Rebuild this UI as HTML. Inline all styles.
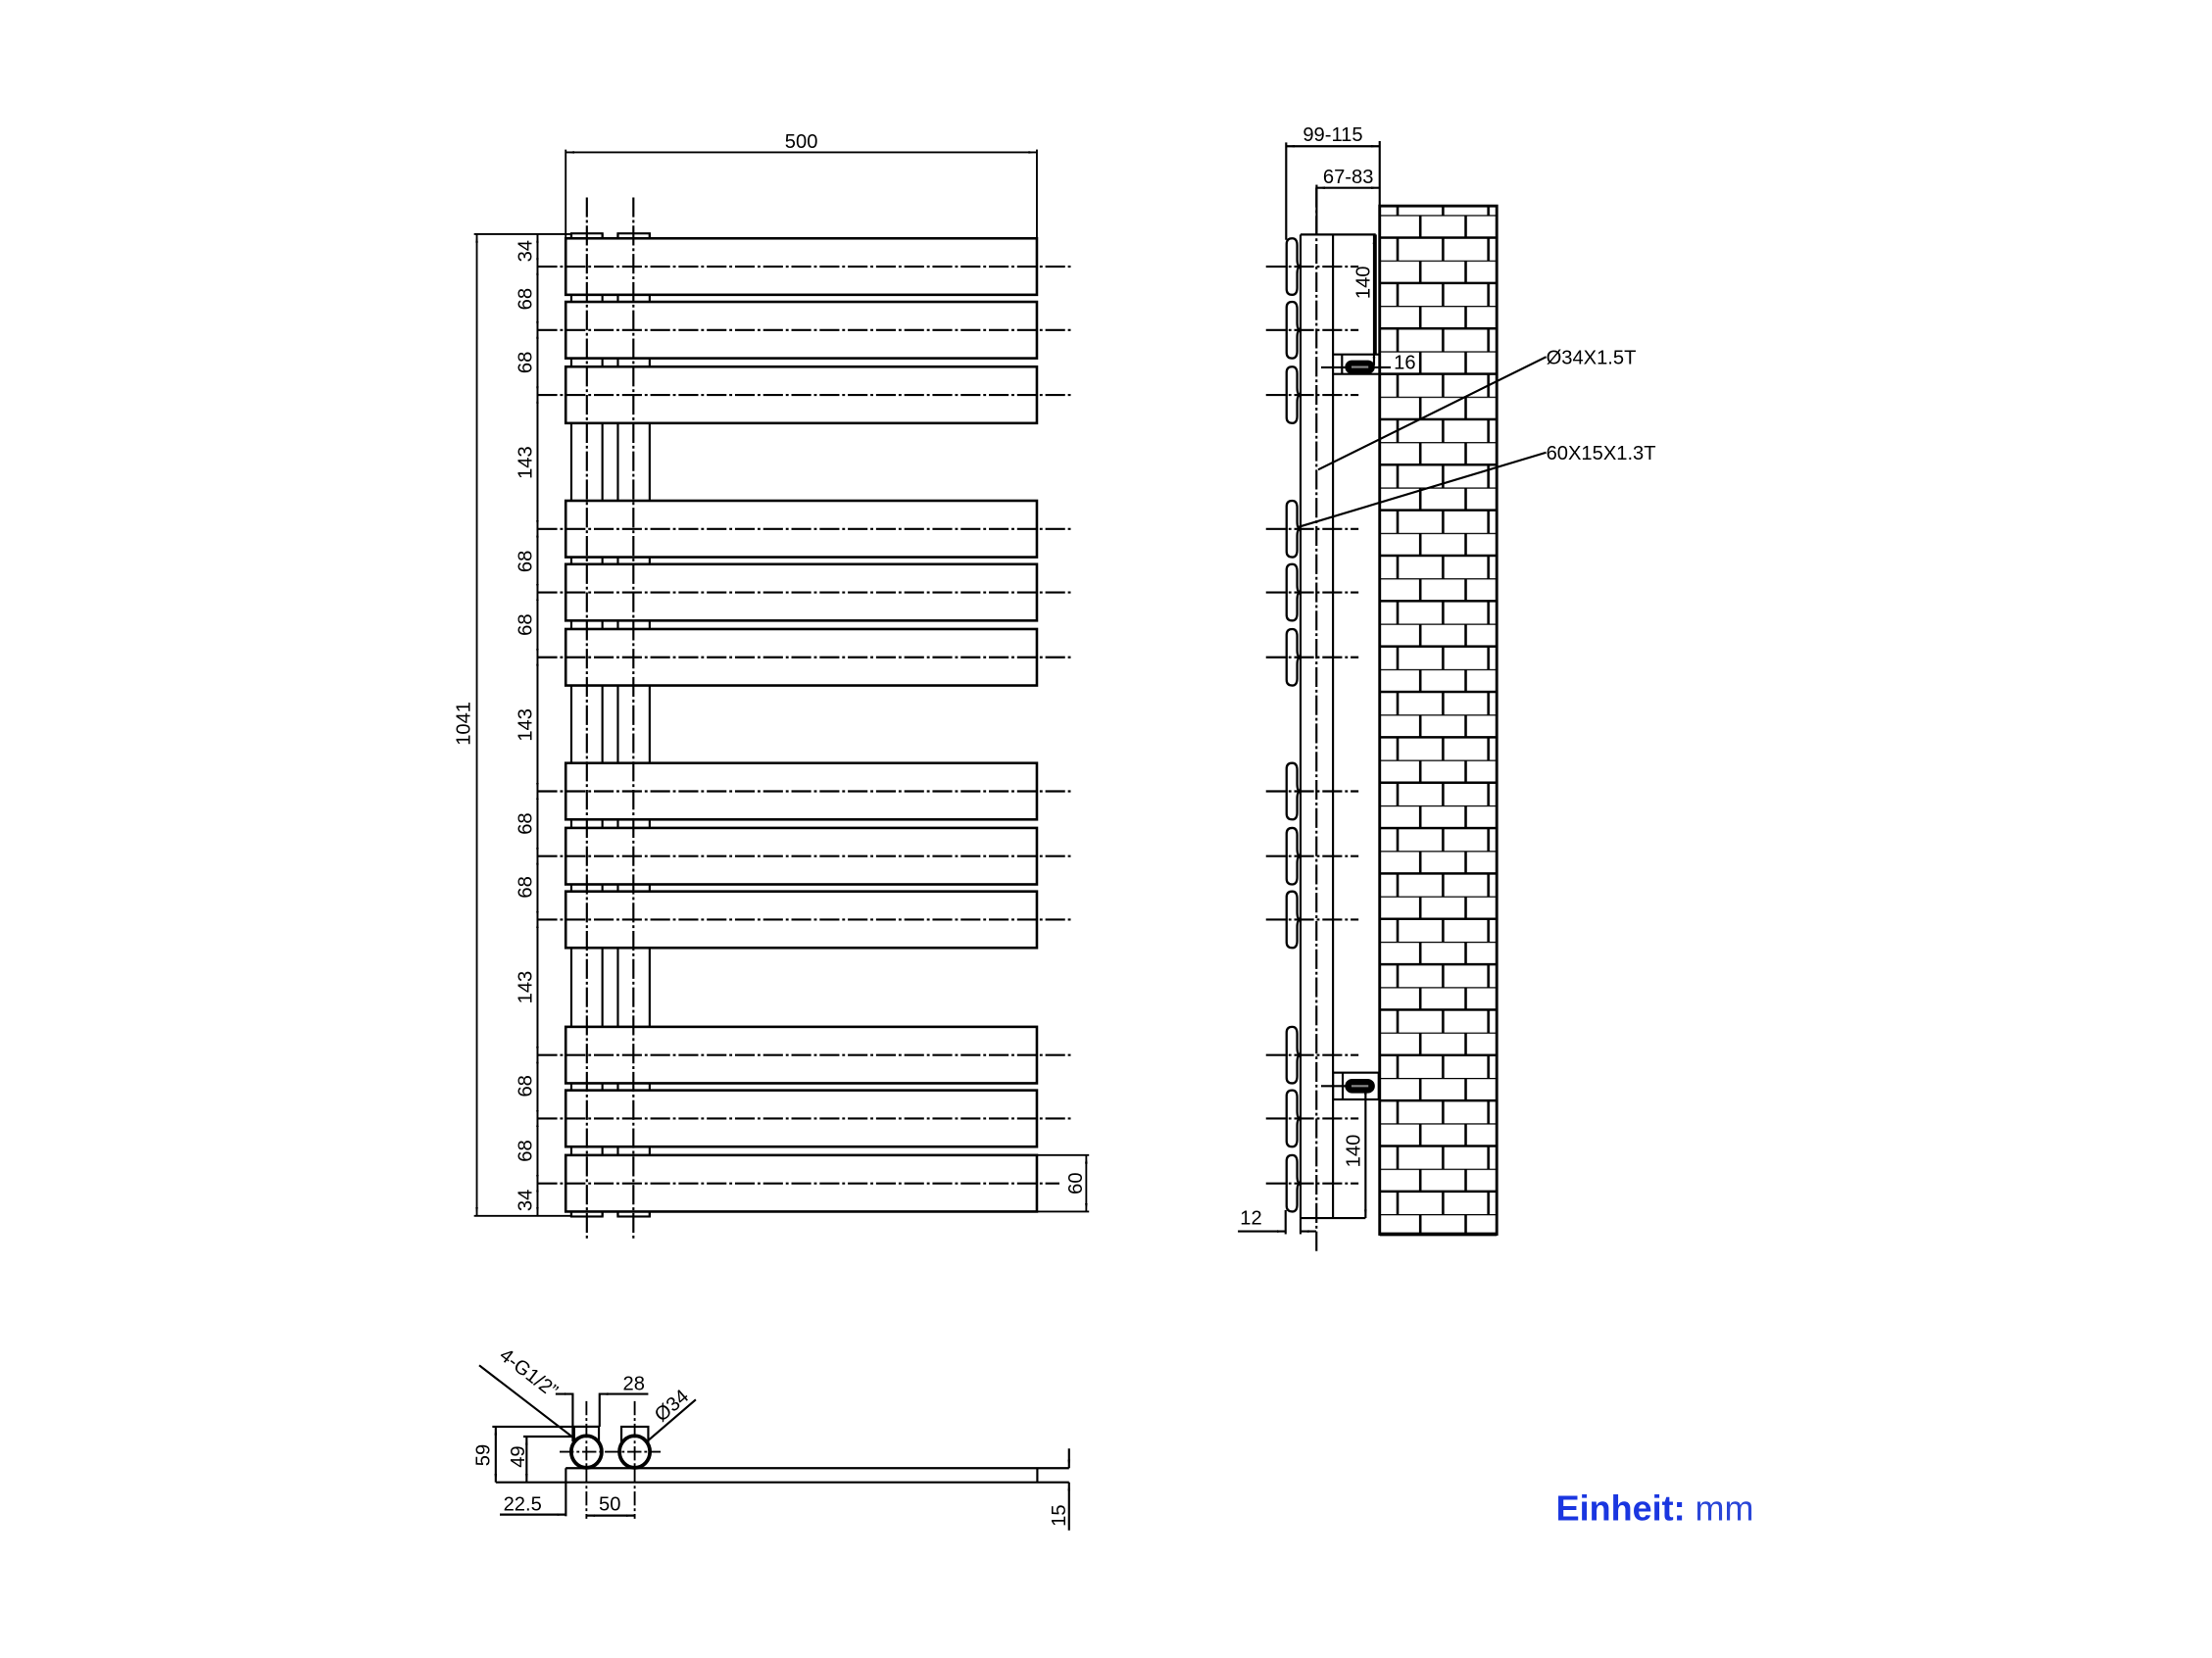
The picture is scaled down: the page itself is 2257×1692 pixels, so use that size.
<!DOCTYPE html>
<html><head><meta charset="utf-8"><style>
html,body{margin:0;padding:0;background:#fff;}
svg{display:block;}
text{font-family:"Liberation Sans",sans-serif;fill:#000;}
</style></head><body>
<svg width="2257" height="1692" viewBox="0 0 1568 1175.5" xmlns="http://www.w3.org/2000/svg">
<defs>
<pattern id="brick" patternUnits="userSpaceOnUse" x="990.7" y="152.4" width="32.19" height="32.2">
<g stroke="#000" stroke-width="1.8" fill="none">
<line x1="0" y1="0" x2="32.19" y2="0"/>
<line x1="0" y1="16.1" x2="32.19" y2="16.1"/>
<line x1="16.1" y1="0" x2="16.1" y2="16.1"/>
<line x1="0" y1="16.1" x2="0" y2="32.2"/>
<line x1="32.19" y1="16.1" x2="32.19" y2="32.2"/>
</g>
</pattern>
<marker id="ar" viewBox="0 0 10 10" refX="10" refY="5" markerWidth="6" markerHeight="6" orient="auto-start-reverse" markerUnits="userSpaceOnUse"><path d="M0,3.5 L10,5 L0,6.5 z" fill="#000"/></marker>
</defs>
<rect width="1568" height="1175.5" fill="#fff"/>

<!-- ================= FRONT VIEW ================= -->
<g stroke="#000" stroke-width="1.5" fill="none">
<line x1="405" y1="165.5" x2="405" y2="862.5"/>
<line x1="427" y1="165.5" x2="427" y2="862.5"/>
<line x1="438" y1="165.5" x2="438" y2="862.5"/>
<line x1="460.5" y1="165.5" x2="460.5" y2="862.5"/>
<rect x="405" y="165.5" width="22" height="3.5"/>
<rect x="438" y="165.5" width="22.5" height="3.5"/>
<rect x="405" y="859" width="22" height="3.5"/>
<rect x="438" y="859" width="22.5" height="3.5"/>
</g>
<g stroke="#000" stroke-width="1.8" fill="#fff">
<rect x="401" y="169" width="334" height="40"/>
<rect x="401" y="214" width="334" height="40"/>
<rect x="401" y="260" width="334" height="40"/>
<rect x="401" y="355" width="334" height="40"/>
<rect x="401" y="400" width="334" height="40"/>
<rect x="401" y="446" width="334" height="40"/>
<rect x="401" y="541" width="334" height="40"/>
<rect x="401" y="587" width="334" height="40"/>
<rect x="401" y="632" width="334" height="40"/>
<rect x="401" y="728" width="334" height="40"/>
<rect x="401" y="773" width="334" height="40"/>
<rect x="401" y="819" width="334" height="40"/>
</g>
<g stroke="#000" stroke-width="1.5" fill="none" stroke-dasharray="14 2 2 2">
<line x1="381" y1="189" x2="759" y2="189"/>
<line x1="381" y1="234" x2="759" y2="234"/>
<line x1="381" y1="280" x2="759" y2="280"/>
<line x1="381" y1="375" x2="759" y2="375"/>
<line x1="381" y1="420" x2="759" y2="420"/>
<line x1="381" y1="466" x2="759" y2="466"/>
<line x1="381" y1="561" x2="759" y2="561"/>
<line x1="381" y1="607" x2="759" y2="607"/>
<line x1="381" y1="652" x2="759" y2="652"/>
<line x1="381" y1="748" x2="759" y2="748"/>
<line x1="381" y1="793" x2="759" y2="793"/>
<line x1="381" y1="839" x2="751" y2="839"/>
<line x1="416" y1="140" x2="416" y2="880"/>
<line x1="449" y1="140" x2="449" y2="880"/>
</g>
<g stroke="#000" stroke-width="1.3" fill="none">
<line x1="401" y1="106" x2="401" y2="169"/>
<line x1="735" y1="106" x2="735" y2="169"/>
<line x1="401" y1="108" x2="735" y2="108" marker-start="url(#ar)" marker-end="url(#ar)"/>
<line x1="336" y1="166" x2="405" y2="166"/>
<line x1="336" y1="862" x2="405" y2="862"/>
<line x1="338" y1="166" x2="338" y2="862" marker-start="url(#ar)" marker-end="url(#ar)"/>
<line x1="381" y1="166" x2="381" y2="862"/>
<line x1="381" y1="166" x2="381" y2="189" marker-start="url(#ar)" marker-end="url(#ar)"/>
<line x1="381" y1="189" x2="381" y2="234" marker-start="url(#ar)" marker-end="url(#ar)"/>
<line x1="381" y1="234" x2="381" y2="280" marker-start="url(#ar)" marker-end="url(#ar)"/>
<line x1="381" y1="280" x2="381" y2="375" marker-start="url(#ar)" marker-end="url(#ar)"/>
<line x1="381" y1="375" x2="381" y2="420" marker-start="url(#ar)" marker-end="url(#ar)"/>
<line x1="381" y1="420" x2="381" y2="466" marker-start="url(#ar)" marker-end="url(#ar)"/>
<line x1="381" y1="466" x2="381" y2="561" marker-start="url(#ar)" marker-end="url(#ar)"/>
<line x1="381" y1="561" x2="381" y2="607" marker-start="url(#ar)" marker-end="url(#ar)"/>
<line x1="381" y1="607" x2="381" y2="652" marker-start="url(#ar)" marker-end="url(#ar)"/>
<line x1="381" y1="652" x2="381" y2="748" marker-start="url(#ar)" marker-end="url(#ar)"/>
<line x1="381" y1="748" x2="381" y2="793" marker-start="url(#ar)" marker-end="url(#ar)"/>
<line x1="381" y1="793" x2="381" y2="839" marker-start="url(#ar)" marker-end="url(#ar)"/>
<line x1="381" y1="839" x2="381" y2="862" marker-start="url(#ar)" marker-end="url(#ar)"/>
<line x1="735" y1="819" x2="772" y2="819"/>
<line x1="735" y1="859" x2="772" y2="859"/>
<line x1="770" y1="819" x2="770" y2="859" marker-start="url(#ar)" marker-end="url(#ar)"/>
</g>
<g font-size="14" text-anchor="middle">
<text x="568" y="105">500</text>
<text transform="translate(333,513) rotate(-90)">1041</text>
<text transform="translate(377,178) rotate(-90)">34</text>
<text transform="translate(377,212) rotate(-90)">68</text>
<text transform="translate(377,257) rotate(-90)">68</text>
<text transform="translate(377,328) rotate(-90)">143</text>
<text transform="translate(377,398) rotate(-90)">68</text>
<text transform="translate(377,443) rotate(-90)">68</text>
<text transform="translate(377,514) rotate(-90)">143</text>
<text transform="translate(377,584) rotate(-90)">68</text>
<text transform="translate(377,629) rotate(-90)">68</text>
<text transform="translate(377,700) rotate(-90)">143</text>
<text transform="translate(377,770) rotate(-90)">68</text>
<text transform="translate(377,816) rotate(-90)">68</text>
<text transform="translate(377,851) rotate(-90)">34</text>
<text transform="translate(767,839) rotate(-90)">60</text>
</g>

<!-- ================= SIDE VIEW ================= -->
<rect x="978" y="146" width="83" height="729" fill="url(#brick)"/>
<rect x="978" y="146" width="83" height="729" fill="none" stroke="#000" stroke-width="2"/>
<line x1="978" y1="875" x2="1061" y2="875" stroke="#000" stroke-width="2.6"/>
<g stroke="#000" stroke-width="1.5" fill="none">
<line x1="921.9" y1="166.3" x2="921.9" y2="863.6"/>
<line x1="944.9" y1="166.3" x2="944.9" y2="863.6"/>
<line x1="921.9" y1="166.3" x2="975.2" y2="166.3"/>
<line x1="975.2" y1="166.3" x2="975.2" y2="251.3"/>
<line x1="921.9" y1="863.6" x2="968" y2="863.6"/>
<line x1="911.7" y1="101" x2="911.7" y2="170"/>
<line x1="978" y1="100" x2="978" y2="146"/>
<line x1="933.3" y1="131" x2="933.3" y2="166"/>
<line x1="911.7" y1="103.7" x2="978" y2="103.7" marker-start="url(#ar)" marker-end="url(#ar)"/>
<line x1="933.3" y1="133.2" x2="978" y2="133.2" marker-start="url(#ar)" marker-end="url(#ar)"/>
<line x1="974" y1="167" x2="974" y2="259" marker-start="url(#ar)" marker-end="url(#ar)"/>
<line x1="944.9" y1="251.3" x2="978" y2="251.3"/>
<line x1="944.9" y1="265.2" x2="1006" y2="265.2"/>
<line x1="951.3" y1="251.3" x2="951.3" y2="265.2"/>
<line x1="936.5" y1="260.5" x2="985.8" y2="260.5"/>
<rect x="944.9" y="760.5" width="32.4" height="19"/>
<line x1="951.8" y1="760.5" x2="951.8" y2="779.5"/>
<line x1="936.5" y1="770" x2="954" y2="770"/>
<line x1="968" y1="770" x2="968" y2="863.6" marker-start="url(#ar)" marker-end="url(#ar)"/>
<line x1="877.5" y1="873" x2="911.3" y2="873" marker-end="url(#ar)"/>
<line x1="933" y1="873" x2="921.9" y2="873" marker-end="url(#ar)"/>
<line x1="911.3" y1="858" x2="911.3" y2="875"/>
<line x1="921.9" y1="863.6" x2="921.9" y2="875"/>
<line x1="934.4" y1="333" x2="1096" y2="253"/>
<line x1="919.3" y1="374" x2="1096" y2="320.8"/>
</g>
<g fill="#000" stroke="#000" stroke-width="1.2">
<rect x="954" y="256" width="20" height="8.5" rx="4.2"/>
<rect x="954" y="765.5" width="20" height="9" rx="4.5"/>
</g>
<line x1="958" y1="260.2" x2="970" y2="260.2" stroke="#888" stroke-width="1.5"/>
<line x1="958" y1="770" x2="970" y2="770" stroke="#888" stroke-width="1.5"/>
<g stroke="#000" stroke-width="1.6" fill="#fff">
<path id="pf" d="M916 169 Q912 169 912 173 L912 205 Q912 209 916 209 Q919.5 209 919.5 204 L919.5 194 Q919.5 189 922 189 Q919.5 189 919.5 184 L919.5 174 Q919.5 169 916 169 Z"/>
<use href="#pf" y="45"/>
<use href="#pf" y="91"/>
<use href="#pf" y="186"/>
<use href="#pf" y="231"/>
<use href="#pf" y="277"/>
<use href="#pf" y="372"/>
<use href="#pf" y="418"/>
<use href="#pf" y="463"/>
<use href="#pf" y="559"/>
<use href="#pf" y="604"/>
<use href="#pf" y="650"/>
</g>
<g stroke="#000" stroke-width="1.5" fill="none" stroke-dasharray="14 2 2 2">
<line x1="933.2" y1="133" x2="933.2" y2="888.5"/>
<line x1="897.4" y1="189" x2="963" y2="189"/>
<line x1="897.4" y1="234" x2="963" y2="234"/>
<line x1="897.4" y1="280" x2="963" y2="280"/>
<line x1="897.4" y1="375" x2="963" y2="375"/>
<line x1="897.4" y1="420" x2="963" y2="420"/>
<line x1="897.4" y1="466" x2="963" y2="466"/>
<line x1="897.4" y1="561" x2="963" y2="561"/>
<line x1="897.4" y1="607" x2="963" y2="607"/>
<line x1="897.4" y1="652" x2="963" y2="652"/>
<line x1="897.4" y1="748" x2="963" y2="748"/>
<line x1="897.4" y1="793" x2="963" y2="793"/>
<line x1="897.4" y1="839" x2="963" y2="839"/>
</g>
<g font-size="14">
<text x="944.8" y="100" text-anchor="middle">99-115</text>
<text x="955.7" y="130" text-anchor="middle">67-83</text>
<text transform="translate(971,200.3) rotate(-90)" text-anchor="middle">140</text>
<text transform="translate(964,816) rotate(-90)" text-anchor="middle">140</text>
<text x="988" y="261.5">16</text>
<text x="1096" y="258">Ø34X1.5T</text>
<text x="1096" y="326">60X15X1.3T</text>
<text x="879" y="868">12</text>
</g>

<!-- ================= BOTTOM VIEW ================= -->
<g stroke="#000" stroke-width="1.5" fill="none">
<line x1="401" y1="1040.9" x2="757.8" y2="1040.9"/>
<line x1="351.4" y1="1050.9" x2="757.8" y2="1050.9"/>
<line x1="735.3" y1="1040.9" x2="735.3" y2="1050.9"/>
<line x1="401.1" y1="1040.9" x2="401.1" y2="1075"/>
<path d="M407 1029 L407 1011.5 L424.5 1011.5 L424.5 1029"/>
<path d="M440.5 1029 L440.5 1011.5 L459.5 1011.5 L459.5 1029"/>
<line x1="349" y1="1011.5" x2="424.5" y2="1011.5"/>
<line x1="371" y1="1018.5" x2="405.5" y2="1018.5"/>
<line x1="351.4" y1="1011.5" x2="351.4" y2="1050.9" marker-start="url(#ar)" marker-end="url(#ar)"/>
<line x1="373.3" y1="1018.5" x2="373.3" y2="1050.9" marker-start="url(#ar)" marker-end="url(#ar)"/>
<line x1="406" y1="987.6" x2="406" y2="1022"/>
<line x1="425" y1="987.6" x2="425" y2="1011.5"/>
<line x1="393.8" y1="988.3" x2="406" y2="988.3" marker-end="url(#ar)"/>
<line x1="459.5" y1="988.3" x2="425" y2="988.3" marker-end="url(#ar)"/>
<line x1="339.7" y1="968" x2="408.4" y2="1020.8"/>
<line x1="459.5" y1="1021.2" x2="493.2" y2="992.3"/>
<line x1="354.3" y1="1073.8" x2="401.1" y2="1073.8" marker-end="url(#ar)"/>
<line x1="415.7" y1="1074.5" x2="449.9" y2="1074.5" marker-start="url(#ar)" marker-end="url(#ar)"/>
<line x1="757.8" y1="1027" x2="757.8" y2="1040.9" marker-end="url(#ar)"/>
<line x1="757.8" y1="1085" x2="757.8" y2="1050.9" marker-end="url(#ar)"/>
</g>
<g stroke="#000" stroke-width="2.6" fill="#fff">
<ellipse cx="415.7" cy="1029.3" rx="10.8" ry="11.3"/>
<ellipse cx="449.9" cy="1029.3" rx="10.8" ry="11.3"/>
</g>
<g stroke="#000" stroke-width="1.3" fill="none" stroke-dasharray="10 2 2 2">
<line x1="415.7" y1="993.4" x2="415.7" y2="1076.8"/>
<line x1="449.9" y1="993.4" x2="449.9" y2="1076.8"/>
<line x1="396.7" y1="1029.3" x2="468.3" y2="1029.3"/>
</g>
<g font-size="14">
<text x="449.3" y="985.5" text-anchor="middle">28</text>
<text transform="translate(347,1031.7) rotate(-90)" text-anchor="middle">59</text>
<text transform="translate(371.5,1032.8) rotate(-90)" text-anchor="middle">49</text>
<text x="370.4" y="1071" text-anchor="middle">22.5</text>
<text x="432.3" y="1071" text-anchor="middle">50</text>
<text transform="translate(755,1074.5) rotate(-90)" text-anchor="middle">15</text>
<text transform="translate(372,977) rotate(37.5)" text-anchor="middle">4-G1/2”</text>
<text transform="translate(479,1000) rotate(-40.6)" text-anchor="middle">Ø34</text>
</g>

<text x="1103" y="1078" font-size="25"><tspan font-weight="bold" fill="#1a36e0">Einheit:</tspan><tspan fill="#2a46d8"> mm</tspan></text>
</svg>
</body></html>
